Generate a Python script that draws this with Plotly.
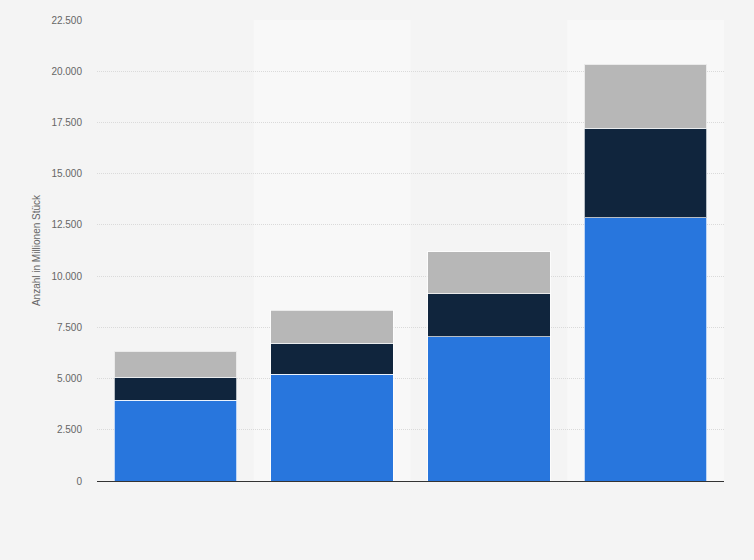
import plotly.graph_objects as go

# categories (no labels shown in the reference)
categories = ["1", "2", "3", "4"]

# stacked segments, in millions
blue_vals = [3950, 5220, 7030, 12860]
dark_vals = [1125, 1510, 2100, 4350]
grey_vals = [1270, 1610, 2050, 3120]

y_ticks = [0, 2500, 5000, 7500, 10000, 12500, 15000, 17500, 20000, 22500]

fig = go.Figure()

series = [
    ("Serie 1", blue_vals, "#2876dd"),
    ("Serie 2", dark_vals, "#10253d"),
    ("Serie 3", grey_vals, "#b7b7b7"),
]
for name, vals, col in series:
    fig.add_trace(go.Bar(
        x=categories, y=vals, name=name,
        marker=dict(color=col, line=dict(color="rgba(255,255,255,0.7)", width=1)),
        showlegend=False,
    ))

# alternating column bands behind the bars
for i in range(len(categories)):
    if i % 2 == 1:
        fig.add_shape(type="rect", xref="x", yref="paper",
                      x0=i - 0.5, x1=i + 0.5, y0=0, y1=1,
                      fillcolor="#f8f8f8", line=dict(width=0), layer="below")

fig.update_layout(
    width=754, height=560,
    barmode="stack", bargap=0.22,
    paper_bgcolor="#f4f4f4", plot_bgcolor="#f4f4f4",
    margin=dict(l=97, r=30, t=20, b=79),
    separators=",.",
    font=dict(family="Liberation Sans, Arial, sans-serif", size=10, color="#666666"),
)
fig.update_xaxes(
    showticklabels=False, showgrid=False, zeroline=False,
    showline=True, linecolor="#333333", linewidth=1,
    range=[-0.5, 3.5],
)
fig.update_yaxes(
    range=[0, 22500], tickvals=y_ticks, tickformat=",d",
    showgrid=True, gridcolor="#dadada", griddash="1px,1px", gridwidth=1,
    zeroline=False, ticks="outside", ticklen=12, tickcolor="rgba(0,0,0,0)",
    tickfont=dict(size=10, color="#666666"),
    title=dict(text="Anzahl in Millionen Stück", font=dict(size=10, color="#666666"), standoff=8),
)

fig.write_html("out.html", config={"displayModeBar": False},
               post_script="document.body.style.margin='0';document.body.style.background='#f4f4f4';")
